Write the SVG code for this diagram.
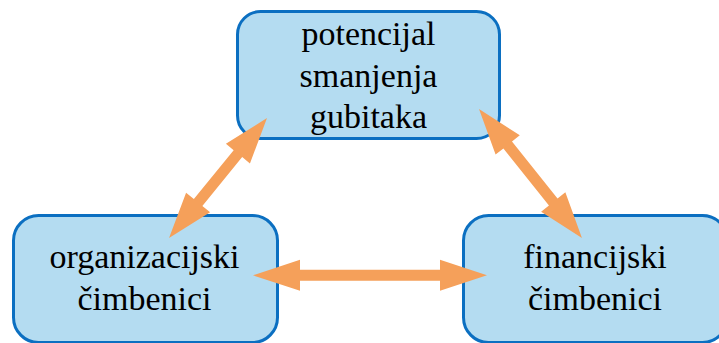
<svg xmlns="http://www.w3.org/2000/svg" width="719" height="343" viewBox="0 0 719 343">
<style>
.box{fill:#b4dcf1;stroke:#0b6fc1;stroke-width:3}
.arr{fill:#f5a05a;stroke:none}
</style>
<rect width="719" height="343" fill="#fff"/>
<g id="node-potencijal">
<rect class="box" x="237.5" y="11.5" width="262" height="127" rx="23"/>
<text x="368.5" y="45" font-family="Liberation Serif" font-size="34" text-anchor="middle" fill="#000">potencijal</text>
<text x="368.5" y="86.5" font-family="Liberation Serif" font-size="34" text-anchor="middle" fill="#000">smanjenja</text>
<text x="368.5" y="128" font-family="Liberation Serif" font-size="34" text-anchor="middle" fill="#000">gubitaka</text>
</g>
<g id="node-organizacijski">
<rect class="box" x="13.5" y="215.5" width="264" height="127" rx="25"/>
<text x="144.5" y="268" font-family="Liberation Serif" font-size="34" text-anchor="middle" fill="#000">organizacijski</text>
<text x="144.5" y="310" font-family="Liberation Serif" font-size="34" text-anchor="middle" fill="#000">čimbenici</text>
</g>
<g id="node-financijski">
<rect class="box" x="463.5" y="215.5" width="264" height="127" rx="25"/>
<text x="595" y="268" font-family="Liberation Serif" font-size="34" text-anchor="middle" fill="#000">financijski</text>
<text x="595" y="310" font-family="Liberation Serif" font-size="34" text-anchor="middle" fill="#000">čimbenici</text>
</g>
<g id="connectors">
<path class="arr" transform="translate(267,118) rotate(129.2)" d="M0,0 L46,-15.5 L46,-5.5 L109,-5.5 L109,-15.5 L155,0 L109,15.5 L109,5.5 L46,5.5 L46,15.5 Z"/>
<path class="arr" transform="translate(479,109) rotate(51.4)" d="M0,0 L46,-15.5 L46,-5.5 L119,-5.5 L119,-15.5 L165,0 L119,15.5 L119,5.5 L46,5.5 L46,15.5 Z"/>
<path class="arr" transform="translate(253,275.3)" d="M0,0 L47,-15.5 L47,-5.5 L187,-5.5 L187,-15.5 L234,0 L187,15.5 L187,5.5 L47,5.5 L47,15.5 Z"/>
</g>
</svg>
